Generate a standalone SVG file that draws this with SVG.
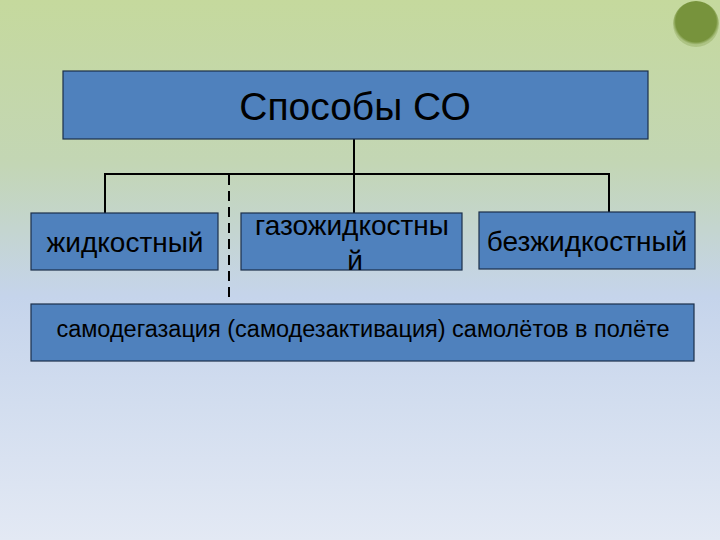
<svg xmlns="http://www.w3.org/2000/svg" width="720" height="540" viewBox="0 0 720 540">
<defs>
<linearGradient id="bg" x1="0" y1="0" x2="0" y2="1">
<stop offset="0" stop-color="#c5d99d"/>
<stop offset="0.3" stop-color="#c3d6b4"/>
<stop offset="0.55" stop-color="#c5d4eb"/>
<stop offset="1" stop-color="#e3e9f4"/>
</linearGradient>
<radialGradient id="dot" cx="0.5" cy="0.45" r="0.5">
<stop offset="0.88" stop-color="#77933c"/>
<stop offset="1" stop-color="#77933c" stop-opacity="0.3"/>
</radialGradient>
</defs>
<style>
.box{fill:#4f81bd;stroke:#1c2f4a;stroke-width:1.2}
.t{font-family:"Liberation Sans",Arial,sans-serif;fill:#000;text-anchor:middle}
.ln{stroke:#000;stroke-width:2;fill:none}
</style>
<rect width="720" height="540" fill="url(#bg)"/>
<circle cx="696" cy="24" r="23" fill="url(#dot)"/>
<g id="connectors">
<path class="ln" d="M354 139V213M105 213V174H609V212"/>
<path class="ln" d="M229 175V302" stroke-dasharray="10 6"/>
</g>
<g id="root">
<rect class="box" x="63" y="71" width="585" height="68"/>
<text class="t" x="355" y="120" font-size="39">Способы СО</text>
</g>
<g id="liquid">
<rect class="box" x="31" y="213" width="187" height="57"/>
<text class="t" x="125" y="252" font-size="28">жидкостный</text>
</g>
<g id="gasliquid">
<rect class="box" x="241" y="213" width="221" height="57"/>
<text class="t" x="352" y="235" font-size="28">газожидкостны</text>
<text class="t" x="355" y="270" font-size="28">й</text>
</g>
<g id="noliquid">
<rect class="box" x="479" y="212" width="216" height="57"/>
<text class="t" x="587" y="251" font-size="28">безжидкостный</text>
</g>
<g id="self">
<rect class="box" x="31" y="304" width="663" height="57"/>
<text class="t" x="363" y="337" font-size="23.5">самодегазация (самодезактивация) самолётов в полёте</text>
</g>
</svg>
